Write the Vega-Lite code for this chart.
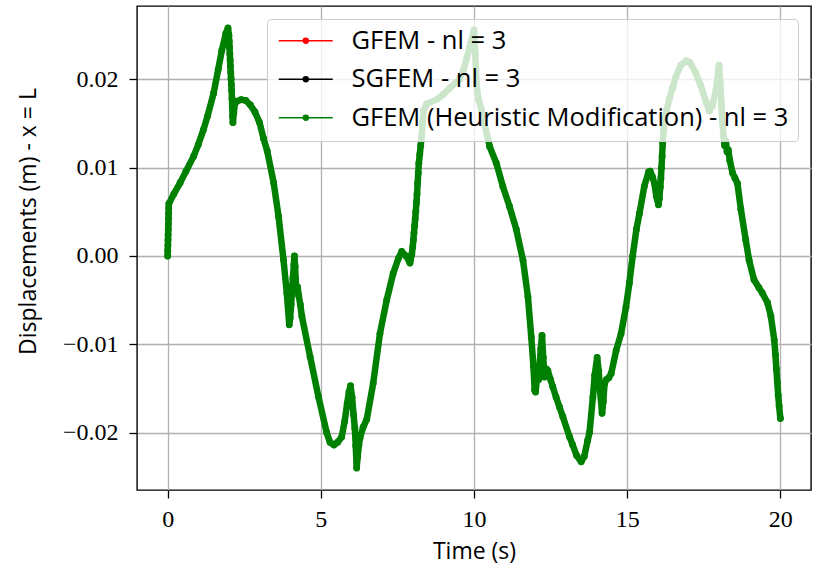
{
  "$schema": "https://vega.github.io/schema/vega-lite/v6.json",
  "width": 674,
  "height": 484,
  "autosize": {"type": "none"},
  "padding": {"left": 137, "top": 6, "right": 4, "bottom": 87},
  "background": "white",
  "config": {
    "view": {"stroke": "black", "strokeWidth": 1.4},
    "axis": {
      "grid": true, "gridColor": "#b0b0b0", "gridWidth": 1.3,
      "domain": false, "ticks": true, "tickColor": "black", "tickSize": 8, "tickWidth": 1.3,
      "labelFont": "Liberation Serif", "labelFontSize": 24, "labelColor": "black",
      "titleFont": "Open Sans", "titleFontSize": 23, "titleFontWeight": "normal", "titleColor": "black"
    }
  },
  "data": {"values": [
    {"t":0,"y":0},{"t":0.004,"y":0.0006},{"t":0.008,"y":0.0012},{"t":0.012,"y":0.0018},{"t":0.016,"y":0.0024},{"t":0.02,"y":0.003},{"t":0.024,"y":0.0036},{"t":0.028,"y":0.0042},{"t":0.032,"y":0.0048},{"t":0.036,"y":0.0054},{"t":0.04,"y":0.0059},
    {"t":0.2,"y":0.007},{"t":0.41,"y":0.0083},{"t":0.6,"y":0.0096},{"t":0.85,"y":0.0113},{"t":1.0,"y":0.0126},{"t":1.17,"y":0.0143},{"t":1.3,"y":0.0158},{"t":1.5,"y":0.0184},{"t":1.65,"y":0.0211},{"t":1.77,"y":0.0233},{"t":1.9,"y":0.0252},{"t":1.97,"y":0.0258},
    {"t":2.0,"y":0.025},{"t":2.01,"y":0.0243},{"t":2.02,"y":0.0236},{"t":2.03,"y":0.0229},{"t":2.04,"y":0.0222},{"t":2.05,"y":0.0215},{"t":2.06,"y":0.0208},{"t":2.07,"y":0.0201},{"t":2.08,"y":0.0194},{"t":2.09,"y":0.0187},{"t":2.1,"y":0.0178},{"t":2.11,"y":0.0168},{"t":2.12,"y":0.0158},{"t":2.13,"y":0.0151},{"t":2.16,"y":0.0162},{"t":2.19,"y":0.0172},
    {"t":2.25,"y":0.0175},{"t":2.4,"y":0.0177},{"t":2.55,"y":0.0176},{"t":2.7,"y":0.0171},{"t":2.85,"y":0.0163},{"t":3.0,"y":0.0151},{"t":3.13,"y":0.0133},{"t":3.25,"y":0.0119},{"t":3.46,"y":0.0083},{"t":3.62,"y":0.0045},{"t":3.78,"y":-0.0004},{"t":3.89,"y":-0.0042},{"t":3.97,"y":-0.0078},
    {"t":4.0,"y":-0.007},{"t":4.03,"y":-0.0055},{"t":4.06,"y":-0.004},{"t":4.09,"y":-0.0025},{"t":4.12,"y":-0.001},{"t":4.14,"y":0.0},{"t":4.16,"y":-0.0012},{"t":4.18,"y":-0.0027},{"t":4.2,"y":-0.004},{"t":4.24,"y":-0.0035},{"t":4.28,"y":-0.0045},{"t":4.33,"y":-0.0055},{"t":4.38,"y":-0.0068},
    {"t":4.65,"y":-0.0114},{"t":4.92,"y":-0.0159},{"t":5.19,"y":-0.02},{"t":5.3,"y":-0.0211},{"t":5.43,"y":-0.0214},{"t":5.55,"y":-0.0211},{"t":5.68,"y":-0.0205},{"t":5.78,"y":-0.0187},{"t":5.86,"y":-0.0167},{"t":5.92,"y":-0.0154},{"t":5.97,"y":-0.0147},
    {"t":6.02,"y":-0.016},{"t":6.07,"y":-0.018},{"t":6.11,"y":-0.0195},{"t":6.14,"y":-0.0215},{"t":6.17,"y":-0.024},{"t":6.2,"y":-0.0228},{"t":6.24,"y":-0.0215},{"t":6.28,"y":-0.0206},{"t":6.38,"y":-0.0194},{"t":6.5,"y":-0.0185},
    {"t":6.71,"y":-0.0144},{"t":6.93,"y":-0.0088},{"t":7.15,"y":-0.005},{"t":7.36,"y":-0.002},{"t":7.53,"y":-0.0003},{"t":7.64,"y":0.0005},{"t":7.78,"y":0.0},{"t":7.91,"y":-0.0008},{"t":7.97,"y":0.0002},
    {"t":8.0,"y":0.001},{"t":8.02,"y":0.0018},{"t":8.04,"y":0.0026},{"t":8.06,"y":0.0034},{"t":8.08,"y":0.0042},{"t":8.1,"y":0.005},{"t":8.12,"y":0.006},{"t":8.14,"y":0.007},{"t":8.16,"y":0.0082},{"t":8.18,"y":0.0094},{"t":8.2,"y":0.0105},{"t":8.23,"y":0.0115},{"t":8.26,"y":0.0125},{"t":8.29,"y":0.0135},{"t":8.32,"y":0.015},{"t":8.36,"y":0.0165},{"t":8.45,"y":0.0172},
    {"t":8.78,"y":0.0177},{"t":9.0,"y":0.0183},{"t":9.21,"y":0.019},{"t":9.4,"y":0.0196},{"t":9.53,"y":0.02},{"t":9.65,"y":0.021},{"t":9.75,"y":0.0222},{"t":9.88,"y":0.024},{"t":10.0,"y":0.0256},
    {"t":10.04,"y":0.023},{"t":10.08,"y":0.0196},{"t":10.14,"y":0.0178},{"t":10.24,"y":0.0166},{"t":10.35,"y":0.0148},{"t":10.46,"y":0.0132},{"t":10.51,"y":0.0124},{"t":10.73,"y":0.0105},{"t":10.94,"y":0.0079},{"t":11.16,"y":0.0056},{"t":11.38,"y":0.003},{"t":11.6,"y":-0.0005},{"t":11.76,"y":-0.0046},{"t":11.87,"y":-0.0092},{"t":11.94,"y":-0.0125},{"t":11.98,"y":-0.0152},
    {"t":12.01,"y":-0.0154},{"t":12.05,"y":-0.014},{"t":12.08,"y":-0.0125},{"t":12.11,"y":-0.014},{"t":12.14,"y":-0.0125},{"t":12.18,"y":-0.0105},{"t":12.22,"y":-0.009},{"t":12.26,"y":-0.0115},{"t":12.3,"y":-0.0137},{"t":12.36,"y":-0.0128},{"t":12.41,"y":-0.013},{"t":12.5,"y":-0.014},{"t":12.57,"y":-0.0148},{"t":12.68,"y":-0.016},{"t":12.79,"y":-0.0171},{"t":12.9,"y":-0.0182},
    {"t":13.12,"y":-0.0205},{"t":13.22,"y":-0.0214},{"t":13.35,"y":-0.0226},{"t":13.5,"y":-0.0233},{"t":13.6,"y":-0.0227},{"t":13.71,"y":-0.0209},{"t":13.77,"y":-0.02},{"t":13.88,"y":-0.016},{"t":13.94,"y":-0.0135},{"t":14.02,"y":-0.0115},{"t":14.07,"y":-0.013},{"t":14.12,"y":-0.0155},{"t":14.18,"y":-0.0178},{"t":14.22,"y":-0.0165},{"t":14.26,"y":-0.0145},{"t":14.32,"y":-0.014},{"t":14.4,"y":-0.0138},{"t":14.48,"y":-0.0133},
    {"t":14.64,"y":-0.0107},{"t":14.8,"y":-0.0088},{"t":14.96,"y":-0.0058},{"t":15.07,"y":-0.0031},{"t":15.18,"y":0.0},{"t":15.3,"y":0.003},{"t":15.4,"y":0.0048},{"t":15.56,"y":0.0079},{"t":15.7,"y":0.0095},{"t":15.75,"y":0.0096},{"t":15.82,"y":0.009},{"t":15.89,"y":0.0082},{"t":15.95,"y":0.0068},{"t":16.02,"y":0.0058},
    {"t":16.05,"y":0.0065},{"t":16.08,"y":0.0078},{"t":16.1,"y":0.0088},{"t":16.12,"y":0.01},{"t":16.14,"y":0.0113},{"t":16.16,"y":0.0128},{"t":16.19,"y":0.0142},{"t":16.21,"y":0.015},{"t":16.29,"y":0.0165},{"t":16.37,"y":0.0177},{"t":16.48,"y":0.019},{"t":16.59,"y":0.0203},{"t":16.75,"y":0.0216},{"t":16.92,"y":0.0221},{"t":17.05,"y":0.0219},{"t":17.24,"y":0.0207},{"t":17.4,"y":0.0193},{"t":17.57,"y":0.0175},{"t":17.68,"y":0.0164},{"t":17.78,"y":0.017},{"t":17.9,"y":0.0188},{"t":17.98,"y":0.0212},{"t":18.0,"y":0.0216},
    {"t":18.04,"y":0.0195},{"t":18.08,"y":0.017},{"t":18.11,"y":0.015},{"t":18.15,"y":0.0135},{"t":18.18,"y":0.0125},{"t":18.22,"y":0.013},{"t":18.26,"y":0.0118},{"t":18.3,"y":0.012},{"t":18.35,"y":0.0108},{"t":18.44,"y":0.0094},{"t":18.52,"y":0.0088},{"t":18.6,"y":0.0082},{"t":18.71,"y":0.0053},{"t":18.87,"y":0.0018},{"t":18.98,"y":-0.0005},{"t":19.14,"y":-0.0027},{"t":19.3,"y":-0.0036},{"t":19.41,"y":-0.0042},{"t":19.58,"y":-0.0053},{"t":19.69,"y":-0.0068},
    {"t":19.8,"y":-0.0095},{"t":19.84,"y":-0.0112},{"t":19.87,"y":-0.0128},{"t":19.9,"y":-0.0143},{"t":19.93,"y":-0.0158},{"t":19.96,"y":-0.017},{"t":20.0,"y":-0.0184}
  ]},
  "mark": {"type": "line", "strokeWidth": 6.5, "strokeJoin": "round", "strokeCap": "round", "point": {"filled": true, "size": 48}},
  "encoding": {
    "x": {"field": "t", "type": "quantitative", "scale": {"domain": [-1, 21], "nice": false, "zero": false},
      "axis": {"values": [0, 5, 10, 15, 20], "title": "Time (s)", "labelPadding": 9, "titlePadding": 9}},
    "y": {"field": "y", "type": "quantitative", "scale": {"domain": [-0.0265, 0.0283], "nice": false, "zero": false},
      "axis": {"values": [-0.02, -0.01, 0, 0.01, 0.02], "format": ".2f", "title": "Displacements (m) - x = L", "labelPadding": 11,
        "titleX": -109, "titleY": 215, "titleAngle": -90, "titleAlign": "center", "titleBaseline": "middle"}},
    "color": {"datum": "GFEM (Heuristic Modification) - nl = 3", "type": "nominal",
      "scale": {"domain": ["GFEM - nl = 3", "SGFEM - nl = 3", "GFEM (Heuristic Modification) - nl = 3"], "range": ["#ff0000", "#000000", "#008000"]},
      "legend": {
        "title": null, "orient": "top-right", "offset": 13, "padding": 9,
        "fillColor": "rgba(255,255,255,0.8)", "strokeColor": "#cccccc", "cornerRadius": 4,
        "labelFont": "Open Sans", "labelFontSize": 25.5, "labelColor": "black", "labelLimit": 600, "labelOffset": 50,
        "rowPadding": 11.5, "symbolSize": 400, "symbolStrokeWidth": 1.5,
        "symbolType": "M-1,0H4.4M1.45,0A0.25,0.25,0,1,1,1.95,0A0.25,0.25,0,1,1,1.45,0Z",
        "encode": {"symbols": {"update": {"fill": {"scale": "color", "field": "value"}, "stroke": {"scale": "color", "field": "value"}}}}
      }
    }
  }
}
